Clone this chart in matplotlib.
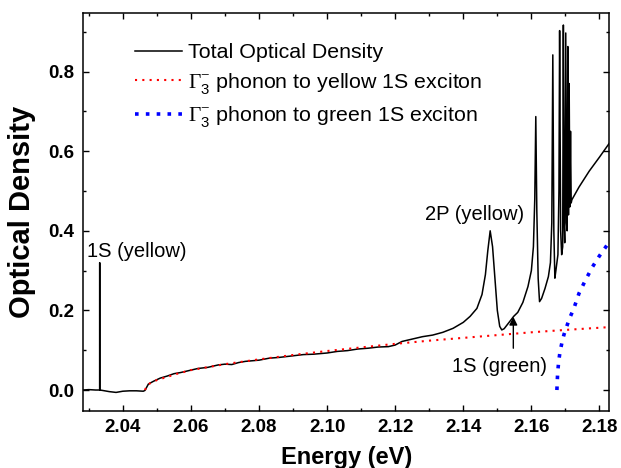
import matplotlib

matplotlib.use("Agg")

import matplotlib.pyplot as plt
from matplotlib.ticker import MultipleLocator

plt.rcParams["font.family"] = ["Liberation Sans", "DejaVu Sans"]
plt.rcParams["mathtext.fontset"] = "custom"
plt.rcParams["mathtext.rm"] = "Liberation Serif"
plt.rcParams["mathtext.sf"] = "Liberation Sans"

# total optical density (energy in eV, OD)
total_energy = [
    2.0283, 2.0300, 2.0320, 2.03318, 2.0332, 2.03322, 2.0340, 2.0360, 2.0380,
    2.0400, 2.0420, 2.0440, 2.0460, 2.0465, 2.0475, 2.0490, 2.0510, 2.0530,
    2.0550, 2.0570, 2.0600, 2.0620, 2.0650, 2.0680, 2.0700, 2.0720, 2.0740,
    2.0760, 2.0800, 2.0830, 2.0860, 2.0900, 2.0930, 2.0960, 2.1000, 2.1030,
    2.1060, 2.1090, 2.1120, 2.1150, 2.1180, 2.1200, 2.1220, 2.1250, 2.1280,
    2.1310, 2.1340, 2.1370, 2.1400, 2.1420, 2.1440, 2.1455, 2.1465, 2.1472,
    2.1479, 2.1486, 2.1493, 2.1500, 2.1507, 2.1513, 2.1520, 2.1530, 2.1540,
    2.1548, 2.1560, 2.1575, 2.1590, 2.1600, 2.1606, 2.1610, 2.1613, 2.1616,
    2.1620, 2.1624, 2.1630, 2.1640, 2.1650, 2.1656, 2.1660, 2.1663, 2.1666,
    2.1669, 2.1672, 2.1678, 2.1681, 2.1683, 2.1686, 2.1689, 2.1692, 2.1694,
    2.1696, 2.1698, 2.1701, 2.1703, 2.1705, 2.1707, 2.1709, 2.1711, 2.1713,
    2.1715, 2.1717, 2.1719, 2.1740, 2.1770, 2.1800, 2.1829,
]
total_od = [
    0.000, 0.001, 0.000, 0.000, 0.320, 0.000, -0.001, -0.004, -0.006,
    -0.003, -0.002, -0.002, -0.003, -0.001, 0.015, 0.022, 0.030, 0.035,
    0.041, 0.044, 0.050, 0.054, 0.057, 0.063, 0.065, 0.064, 0.069,
    0.072, 0.075, 0.080, 0.082, 0.086, 0.089, 0.090, 0.093, 0.097,
    0.099, 0.103, 0.105, 0.108, 0.109, 0.113, 0.122, 0.128, 0.134,
    0.138, 0.145, 0.155, 0.170, 0.185, 0.205, 0.240, 0.290, 0.350,
    0.400, 0.360, 0.280, 0.200, 0.160, 0.151, 0.154, 0.165, 0.176,
    0.185, 0.195, 0.220, 0.260, 0.300, 0.360, 0.480, 0.687, 0.450,
    0.280, 0.222, 0.230, 0.255, 0.285, 0.320, 0.420, 0.842, 0.400,
    0.281, 0.300, 0.340, 0.500, 0.903, 0.400, 0.340, 0.360, 0.917,
    0.430, 0.370, 0.897, 0.420, 0.400, 0.863, 0.440, 0.770, 0.460,
    0.650, 0.470, 0.478, 0.510, 0.550, 0.585, 0.620,
]

# Gamma3- phonon assisted absorption into the yellow 1S exciton
yellow_energy = [2.0465, 2.0470, 2.0480, 2.0500, 2.0530, 2.0560, 2.0600,
                 2.0700, 2.0800, 2.0900, 2.1000, 2.1100, 2.1200, 2.1300,
                 2.1400, 2.1500, 2.1600, 2.1700, 2.1829]
yellow_od = [0.000, 0.010, 0.017, 0.025, 0.033, 0.041, 0.050,
             0.065, 0.077, 0.088, 0.098, 0.107, 0.116, 0.124,
             0.131, 0.138, 0.145, 0.151, 0.158]

# Gamma3- phonon assisted absorption into the green 1S exciton
green_energy = [2.1675, 2.1677, 2.1680, 2.1684, 2.1690, 2.1696, 2.1704,
                2.1712, 2.1724, 2.1740, 2.1760, 2.1780, 2.1800, 2.1829]
green_od = [0.000, 0.040, 0.070, 0.095, 0.120, 0.140, 0.160,
            0.180, 0.203, 0.243, 0.278, 0.310, 0.337, 0.372]

fig = plt.figure(figsize=(6.21, 4.68), dpi=100)
ax = fig.add_axes([0.1337, 0.1224, 0.8475, 0.8505])

ax.plot(total_energy, total_od, color="black", linewidth=1.1,
        label="Total Optical Density")
ax.plot(yellow_energy, yellow_od, color="red", linewidth=1.5,
        linestyle=(0, (1, 2.5)),
        label=r"$\Gamma^{-}_{\mathsf{3}}$ phonon to yellow 1S exciton")
ax.plot(green_energy, green_od, color="blue", linewidth=2.6,
        linestyle=(0, (1, 2)),
        label=r"$\Gamma^{-}_{\mathsf{3}}$ phonon to green 1S exciton")

ax.set_xlim(2.0283, 2.1829)
ax.set_ylim(-0.052, 0.948)

ax.xaxis.set_major_locator(MultipleLocator(0.02))
ax.xaxis.set_minor_locator(MultipleLocator(0.01))
ax.yaxis.set_major_locator(MultipleLocator(0.2))
ax.yaxis.set_minor_locator(MultipleLocator(0.1))
ax.xaxis.set_major_formatter(lambda v, pos: f"{v:.2f}")
ax.yaxis.set_major_formatter(lambda v, pos: f"{v:.1f}")

ax.tick_params(which="both", direction="in", top=True, right=True, width=1.0)
ax.tick_params(which="major", length=4.5, labelsize=13.5, pad=6)
ax.tick_params(which="minor", length=2.5)
for label in ax.get_xticklabels() + ax.get_yticklabels():
    label.set_fontweight("bold")
for spine in ax.spines.values():
    spine.set_linewidth(1.1)

ax.set_xlabel("Energy (eV)", fontsize=17, fontweight="bold", labelpad=7)
ax.set_ylabel("Optical Density", fontsize=21, fontweight="bold", labelpad=9)

ax.text(2.0294, 0.349, "1S (yellow)", fontsize=14.5, ha="left", va="center")
ax.text(2.1288, 0.44, "2P (yellow)", fontsize=14.5, ha="left", va="center")
ax.text(2.1366, 0.059, "1S (green)", fontsize=14.5, ha="left", va="center")
ax.annotate("", xy=(2.1547, 0.184), xytext=(2.1547, 0.105),
            arrowprops=dict(arrowstyle="-|>", color="black", lw=1.0,
                            mutation_scale=12, shrinkA=0, shrinkB=0))

ax.legend(loc="upper left", bbox_to_anchor=(0.082, 0.945), frameon=False,
          fontsize=15.4, handlelength=2.2, handletextpad=0.3,
          labelspacing=0.4, borderaxespad=0.0)

fig.savefig("out.png", dpi=100)
